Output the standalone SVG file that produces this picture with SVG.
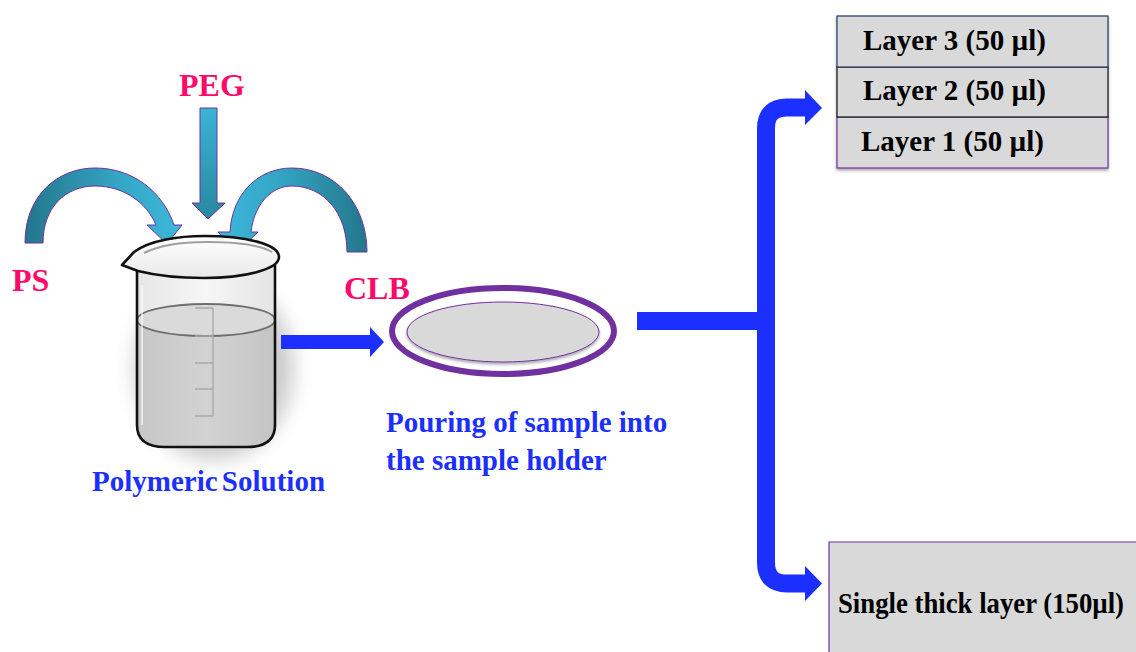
<svg xmlns="http://www.w3.org/2000/svg" width="1136" height="652" viewBox="0 0 1136 652">
  <style>
    .lbl-pink { font-family: "Liberation Serif", "Times New Roman", serif; font-weight: bold; font-size: 32px; fill: #FF0A6A; }
    .lbl-blue { font-family: "Liberation Serif", "Times New Roman", serif; font-weight: bold; font-size: 29px; fill: #1B30FF; }
    .lbl-black { font-family: "Liberation Serif", "Times New Roman", serif; font-weight: bold; font-size: 29px; fill: #000; }
    .flow { fill: #1B30FF; }
    .box { fill: #D9D9D9; }
  </style>
  <defs>
    <linearGradient id="gTealL" x1="0" y1="0" x2="1" y2="0">
      <stop offset="0" stop-color="#23778B"/>
      <stop offset="0.6" stop-color="#34A6C6"/>
      <stop offset="1" stop-color="#3CB8DA"/>
    </linearGradient>
    <linearGradient id="gTealR" x1="1" y1="0" x2="0" y2="0">
      <stop offset="0" stop-color="#23778B"/>
      <stop offset="0.6" stop-color="#34A6C6"/>
      <stop offset="1" stop-color="#3CB8DA"/>
    </linearGradient>
    <linearGradient id="gTealV" x1="0" y1="0" x2="0" y2="1">
      <stop offset="0" stop-color="#3AB4D6"/>
      <stop offset="1" stop-color="#28879F"/>
    </linearGradient>
    <linearGradient id="gRim" x1="0" y1="0" x2="0" y2="1">
      <stop offset="0" stop-color="#FFFFFF"/>
      <stop offset="1" stop-color="#E8E8E8"/>
    </linearGradient>
    <linearGradient id="gGlass" x1="0" y1="0" x2="1" y2="0">
      <stop offset="0" stop-color="#E6E6E6"/>
      <stop offset="0.5" stop-color="#F6F6F6"/>
      <stop offset="1" stop-color="#E4E4E4"/>
    </linearGradient>
    <linearGradient id="gLiquid" x1="0" y1="0" x2="1" y2="0">
      <stop offset="0" stop-color="#C6C6C6"/>
      <stop offset="0.5" stop-color="#D2D2D2"/>
      <stop offset="1" stop-color="#C4C4C4"/>
    </linearGradient>
    <filter id="softShadow" x="-30%" y="-30%" width="160%" height="160%">
      <feGaussianBlur stdDeviation="10"/>
    </filter>
    <filter id="dropShadow" x="-10%" y="-10%" width="120%" height="130%">
      <feDropShadow dx="0" dy="2" stdDeviation="1.5" flood-color="#000" flood-opacity="0.35"/>
    </filter>
  </defs>

  <!-- ingredient arrows -->
  <g id="arrow-ps">
    <path d="M25,243 C25,195 58,168 95,168 C133,168 163,192 174,225 L182,225 L167,244 L147,225 L156,225 C147,203 124,186 95,186 C66,186 43,207 43,243 Z" fill="url(#gTealL)" stroke="#7030A0" stroke-width="1"/>
  </g>
  <g id="arrow-peg">
    <path d="M200,108 L217,108 L217,203 L225,203 L208,219 L192,203 L200,203 Z" fill="url(#gTealV)" stroke="#7030A0" stroke-width="1"/>
  </g>
  <g id="arrow-clb">
    <path d="M367,252 C367,204 335,168 292,168 C258,168 232,194 230,232 L218,232 L236,253 L258,232 L251,232 C254,206 270,186 292,186 C323,186 347,212 347,252 Z" fill="url(#gTealR)" stroke="#7030A0" stroke-width="1"/>
  </g>

  <!-- labels for the ingredients -->
  <g id="label-peg"><text class="lbl-pink" x="179" y="96">PEG</text></g>
  <g id="label-ps"><text class="lbl-pink" x="12" y="291">PS</text></g>
  <g id="label-clb"><text class="lbl-pink" x="344" y="299">CLB</text></g>

  <!-- beaker with polymeric solution -->
  <g id="beaker">
    <ellipse cx="214" cy="368" rx="80" ry="92" fill="#000" opacity="0.2" filter="url(#softShadow)"/>
    <!-- glass body -->
    <path d="M137,262 L137,425 Q137,447 165,447 L247,447 Q275,447 275,425 L275,262 Z" fill="url(#gGlass)"/>
    <!-- liquid -->
    <path d="M137,320 L137,425 Q137,447 165,447 L247,447 Q275,447 275,425 L275,320 A69,16 0 0 1 137,320 Z" fill="url(#gLiquid)"/>
    <ellipse cx="206" cy="320" rx="69" ry="16" fill="#DADADA" stroke="#6E6E6E" stroke-width="1.8"/>
    <!-- graduation marks -->
    <g stroke="#A8A8A8" stroke-width="1.3" fill="none">
      <path d="M213,308 L213,416"/>
      <path d="M195,308 L213,308 M195,336 L213,336 M195,363 L213,363 M195,389 L213,389 M195,416 L213,416"/>
    </g>
    <!-- faint glass highlight -->
    <path d="M142,285 L142,425" stroke="#FFFFFF" stroke-width="2" opacity="0.6"/>
    <!-- outline -->
    <path d="M137,268 L137,425 Q137,447 165,447 L247,447 Q275,447 275,425 L275,258" fill="none" stroke="#111" stroke-width="2.6"/>
    <!-- rim -->
    <path d="M134,252 C150,240 180,236 204,236 C245,236 279,244 279,257 C279,269 246,278 204,278 C175,278 150,274 138,271 L122,265 Z" fill="url(#gRim)" stroke="#111" stroke-width="2.6" stroke-linejoin="round"/>
    <path d="M144,253 C160,245 185,242 206,242 C238,242 262,246 272,252" fill="none" stroke="#A0A0A0" stroke-width="2"/>
  </g>
  <g id="label-polymeric"><text class="lbl-blue" x="92" y="491" word-spacing="-3">Polymeric Solution</text></g>

  <!-- sample holder -->
  <g id="holder">
    <ellipse cx="503" cy="331" rx="111" ry="43" fill="#FFFFFF" stroke="#7030A0" stroke-width="6"/>
    <ellipse cx="503" cy="332" rx="96" ry="30" fill="#D9D9D9" stroke="#7030A0" stroke-width="1" filter="url(#dropShadow)"/>
  </g>
  <g id="label-pouring">
    <text class="lbl-blue" x="386" y="432">Pouring of sample into</text>
    <text class="lbl-blue" x="386" y="470">the sample holder</text>
  </g>

  <!-- layered deposition -->
  <g id="layers" filter="url(#dropShadow)">
    <rect class="box" x="837" y="117" width="271" height="51" stroke="#7030A0" stroke-width="1.2"/>
    <rect class="box" x="837" y="67" width="271" height="50" stroke="#111" stroke-width="1.2"/>
    <rect class="box" x="837" y="16" width="271" height="51" stroke="#1F3864" stroke-width="1.2"/>
  </g>
  <g id="layer-labels">
    <text class="lbl-black" x="863" y="50">Layer 3 (50 µl)</text>
    <text class="lbl-black" x="863" y="100">Layer 2 (50 µl)</text>
    <text class="lbl-black" x="861" y="151">Layer 1 (50 µl)</text>
  </g>

  <!-- single thick layer: box runs off the right and bottom edges -->
  <g id="single-layer">
    <rect class="box" x="829" y="542" width="307" height="110"/>
    <path d="M829,652 L829,542 L1136,542" fill="none" stroke="#7030A0" stroke-width="1.2"/>
    <text class="lbl-black" x="838" y="613" font-size="25" textLength="286" lengthAdjust="spacingAndGlyphs">Single thick layer (150µl)</text>
  </g>

  <!-- connectors -->
  <g id="connectors">
    <path class="flow" d="M281,335 L370,335 L370,327 L384,342 L370,357 L370,349 L281,349 Z"/>
    <rect class="flow" x="637" y="312" width="129" height="18"/>
    <path d="M806,107.5 L787,107.5 Q766,107.5 766,128.5 L766,562.5 Q766,583.5 787,583.5 L806,583.5" fill="none" stroke="#1B30FF" stroke-width="18"/>
    <path class="flow" d="M805,90 L822,108 L805,125 Z"/>
    <path class="flow" d="M805,566 L822,583.5 L805,601 Z"/>
  </g>
</svg>
